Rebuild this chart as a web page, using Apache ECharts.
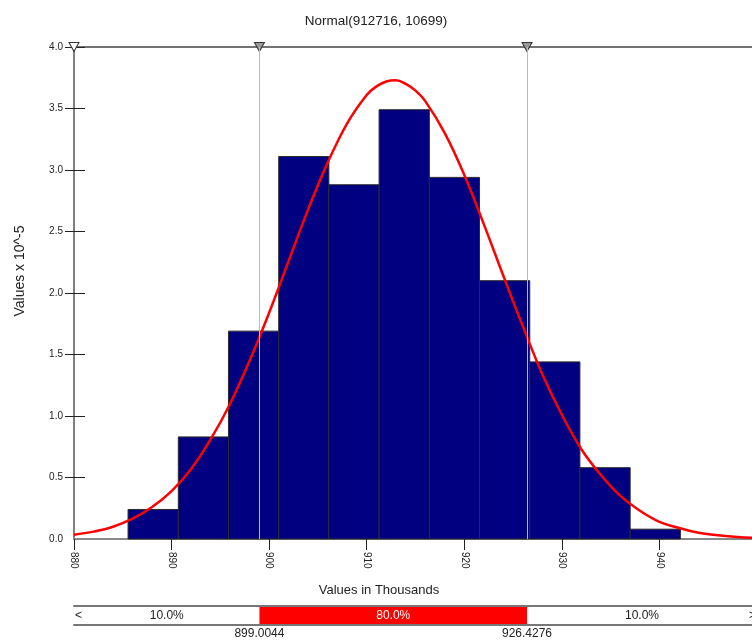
<!DOCTYPE html>
<html>
<head>
<meta charset="utf-8">
<title>Normal(912716, 10699)</title>
<script src="https://cdn.jsdelivr.net/npm/echarts@6/dist/echarts.min.js"></script>
<style>
  html, body { margin: 0; padding: 0; background: #fff; }
  #main { width: 752px; height: 642px; }
</style>
</head>
<body>
<div id="main"></div>
<script>
// histogram bins, x in thousands, heights in 10^-5
const binEdges = [885.54, 890.69, 895.83, 900.98, 906.12, 911.27, 916.42, 921.56, 926.71, 931.85, 937.0, 942.15]
const binHeights = [0.24, 0.83, 1.69, 3.11, 2.88, 3.49, 2.94, 2.1, 1.44, 0.58, 0.08]

// fitted normal curve
const curveX = [880, 882, 884, 886, 888, 890, 892, 894, 896, 898, 900, 902, 904, 906, 908, 910, 911, 912, 913, 914, 915, 916, 918,
  920, 922, 924, 926, 928, 930, 932, 934, 936, 938, 940, 942, 944, 946, 948, 950]
const curveY = [0.035, 0.06, 0.10, 0.165, 0.26, 0.39, 0.57, 0.81, 1.10, 1.45, 1.84, 2.26, 2.68, 3.06, 3.38, 3.61, 3.68, 3.72, 3.73, 3.70, 3.645, 3.56, 3.30,
  2.96, 2.56, 2.14, 1.73, 1.34, 1.01, 0.73, 0.52, 0.35, 0.23, 0.14, 0.09, 0.05, 0.03, 0.016, 0.009]

// axes
const xMin = 880, xMax = 950, xStep = 10
const yMin = 0, yMax = 4, yStep = 0.5
const yTickValues = [0.5, 1.0, 1.5, 2.0, 2.5, 3.0, 3.5, 4.0]

// delimiters and the bottom strip
const markerX = [880, 899.0044, 926.4276]
const cutoffs = [899.0044, 926.4276]
const stripEdges = [880, 899.0044, 926.4276, 950]
const stripLabels = ['10.0%', '80.0%', '10.0%']

const FONT = 'Liberation Sans, Arial, sans-serif'

function renderBin(params, api) {
  const top = api.coord([api.value(0), api.value(2)])
  const bottom = api.coord([api.value(1), 0])
  return {
    type: 'rect',
    shape: { x: top[0], y: top[1], width: bottom[0] - top[0], height: bottom[1] - top[1] },
    style: { fill: '#000080', stroke: '#2b2b2b', lineWidth: 1 }
  }
}

function renderStrip(params, api) {
  const a = api.coord([api.value(0), 0])
  const b = api.coord([api.value(1), 1])
  const i = params.dataIndex
  const mid = i === 1
  const children = [
    {
      type: 'rect',
      shape: { x: a[0], y: b[1] + 1, width: b[0] - a[0], height: a[1] - b[1] - 2 },
      style: { fill: mid ? '#ff0000' : 'rgba(0,0,0,0)' }
    },
    {
      type: 'text',
      style: {
        text: stripLabels[i], x: (a[0] + b[0]) / 2, y: (a[1] + b[1]) / 2,
        align: 'center', verticalAlign: 'middle',
        fill: mid ? '#fff' : '#222', fontSize: 12, fontFamily: FONT
      }
    }
  ]
  if (i === 0) {
    children.push({
      type: 'text',
      style: { text: '<', x: a[0] + 1, y: (a[1] + b[1]) / 2, align: 'left', verticalAlign: 'middle', fill: '#222', fontSize: 12, fontFamily: FONT }
    })
  }
  if (i === stripLabels.length - 1) {
    children.push({
      type: 'text',
      style: { text: '>', x: b[0] - 1, y: (a[1] + b[1]) / 2, align: 'right', verticalAlign: 'middle', fill: '#222', fontSize: 12, fontFamily: FONT }
    })
  }
  return { type: 'group', children: children }
}

const chart = echarts.init(document.getElementById('main'))

const option = {
  backgroundColor: '#fff',
  animation: false,
  title: {
    text: 'Normal(912716, 10699)',
    left: 'center',
    top: 9,
    textStyle: { fontFamily: FONT, fontSize: 13.5, fontWeight: 'normal', color: '#222' }
  },
  graphic: [
    {
      type: 'text', x: 20, y: 271, rotation: Math.PI / 2,
      style: { text: 'Values x 10^-5', align: 'center', verticalAlign: 'middle', fill: '#222', fontSize: 14, fontFamily: FONT }
    },
    {
      type: 'text', x: 379, y: 590,
      style: { text: 'Values in Thousands', align: 'center', verticalAlign: 'middle', fill: '#222', fontSize: 13, fontFamily: FONT }
    }
  ],
  grid: [
    { left: 74, right: -5, top: 47, height: 492, outerBoundsMode: 'none', containLabel: false },
    { left: 74, right: -5, top: 606, height: 19, outerBoundsMode: 'none', containLabel: false }
  ],
  xAxis: [
    {
      gridIndex: 0, type: 'value', position: 'bottom',
      min: xMin, max: xMax, interval: xStep,
      axisLine: { show: true, onZero: false, lineStyle: { color: '#888', width: 2 } },
      axisTick: { show: true, length: 11, lineStyle: { color: '#222' } },
      axisLabel: {
        rotate: -90, margin: 13, fontSize: 10, fontFamily: FONT, color: '#222',
        formatter: (v) => (v === xMax ? '' : String(v))
      },
      splitLine: { show: false }
    },
    {
      gridIndex: 0, type: 'value', position: 'top',
      min: xMin, max: xMax,
      axisLine: { show: true, onZero: false, lineStyle: { color: '#444', width: 1.5 } },
      axisTick: { show: false }, axisLabel: { show: false }, splitLine: { show: false }
    },
    {
      gridIndex: 1, type: 'value', position: 'top',
      min: xMin, max: xMax,
      axisLine: { show: true, onZero: false, lineStyle: { color: '#777', width: 2 } },
      axisTick: { show: false }, axisLabel: { show: false }, splitLine: { show: false }
    },
    {
      gridIndex: 1, type: 'value', position: 'bottom',
      min: xMin, max: xMax,
      axisLine: { show: true, onZero: false, lineStyle: { color: '#777', width: 2 } },
      axisTick: { show: false },
      axisLabel: {
        customValues: cutoffs, margin: 3, fontSize: 12, fontFamily: FONT, color: '#222',
        formatter: (v) => v.toFixed(4)
      },
      splitLine: { show: false }
    }
  ],
  yAxis: [
    {
      gridIndex: 0, type: 'value', position: 'left',
      min: yMin, max: yMax, interval: yStep,
      axisLine: { show: true, onZero: false, lineStyle: { color: '#555', width: 1.5 } },
      axisTick: { show: true, length: 9, customValues: yTickValues, lineStyle: { color: '#222' } },
      axisLabel: { margin: 11, fontSize: 10, fontFamily: FONT, color: '#222', formatter: (v) => v.toFixed(1) },
      splitLine: { show: false }
    },
    {
      gridIndex: 0, type: 'value', position: 'left',
      min: yMin, max: yMax, interval: yStep,
      axisLine: { show: false, onZero: false },
      axisTick: { show: true, inside: true, length: 11, customValues: yTickValues, lineStyle: { color: '#222' } },
      axisLabel: { show: false }, splitLine: { show: false }
    },
    {
      gridIndex: 1, type: 'value', min: 0, max: 1, show: false
    }
  ],
  series: [
    {
      name: 'bins',
      type: 'custom',
      xAxisIndex: 0, yAxisIndex: 0,
      renderItem: renderBin,
      encode: { x: [0, 1], y: 2 },
      data: binHeights.map((h, i) => [binEdges[i], binEdges[i + 1], h]),
      z: 2
    },
    {
      name: 'delimiters',
      type: 'scatter',
      xAxisIndex: 0, yAxisIndex: 0,
      symbol: 'triangle', symbolRotate: 180, symbolSize: [10, 9],
      clip: false,
      itemStyle: { borderColor: '#333', borderWidth: 1, opacity: 1 },
      data: markerX.map((x, i) => ({ value: [x, yMax], itemStyle: { color: i === 0 ? '#fff' : '#999' } })),
      markLine: {
        silent: true, symbol: 'none', animation: false,
        label: { show: false },
        lineStyle: { color: '#bbb', width: 1, type: 'solid' },
        data: cutoffs.map((x) => ({ xAxis: x }))
      },
      z: 3
    },
    {
      name: 'Normal',
      type: 'line',
      xAxisIndex: 0, yAxisIndex: 0,
      data: curveX.map((x, i) => [x, curveY[i]]),
      smooth: 0.4,
      symbol: 'none',
      lineStyle: { color: '#ff0000', width: 2.5 },
      z: 4
    },
    {
      name: 'strip',
      type: 'custom',
      xAxisIndex: 2, yAxisIndex: 2,
      renderItem: renderStrip,
      encode: { x: [0, 1] },
      data: stripLabels.map((t, i) => [stripEdges[i], stripEdges[i + 1]]),
      z: 2
    }
  ]
}

chart.setOption(option)
</script>
</body>
</html>
